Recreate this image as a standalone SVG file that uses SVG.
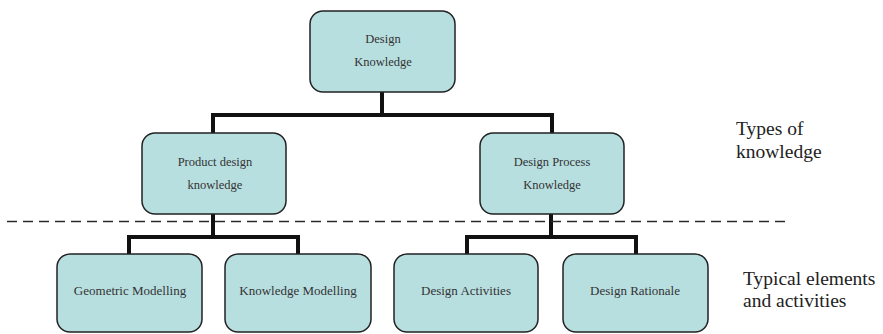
<svg xmlns="http://www.w3.org/2000/svg" width="883" height="334" viewBox="0 0 883 334">
  <style>
    .box { fill: #b8dfe0; stroke: #222; stroke-width: 1.5; }
    .lbl { font-family: "Liberation Serif", "Times New Roman", serif; fill: #333; text-anchor: middle; }
    .top { font-size: 12.5px; }
    .leaf { font-size: 13px; }
    .side { font-family: "Liberation Serif", "Times New Roman", serif; fill: #222; font-size: 19.5px; }
    .link { fill: none; stroke: #111; stroke-width: 4; stroke-linejoin: miter; }
    .sep { stroke: #2a2a2a; stroke-width: 1.4; stroke-dasharray: 10 6; }
  </style>

  <!-- tree connectors -->
  <g id="connectors">
    <path class="link" d="M382 92 V115 M213 133 V115 H552 V133"/>
    <path class="link" d="M213 214 V237 M129 254 V237 H298 V254"/>
    <path class="link" d="M551 214 V237 M467 254 V237 H636 V254"/>
  </g>

  <!-- level separator -->
  <line class="sep" x1="7" y1="221.5" x2="790" y2="221.5"/>

  <g id="design-knowledge">
    <rect class="box" x="310" y="11" width="145" height="81" rx="13"/>
    <text class="lbl top" x="383" y="43">Design</text>
    <text class="lbl top" x="383" y="66">Knowledge</text>
  </g>

  <g id="product-design-knowledge">
    <rect class="box" x="142" y="133" width="144" height="81" rx="13"/>
    <text class="lbl top" x="215" y="166">Product design</text>
    <text class="lbl top" x="215" y="189">knowledge</text>
  </g>

  <g id="design-process-knowledge">
    <rect class="box" x="480" y="133" width="144" height="81" rx="13"/>
    <text class="lbl top" x="552" y="166">Design Process</text>
    <text class="lbl top" x="552" y="189">Knowledge</text>
  </g>

  <g id="geometric-modelling">
    <rect class="box" x="57" y="254" width="145" height="78" rx="13"/>
    <text class="lbl leaf" x="130" y="295">Geometric Modelling</text>
  </g>

  <g id="knowledge-modelling">
    <rect class="box" x="225" y="254" width="146" height="78" rx="13"/>
    <text class="lbl leaf" x="298" y="295">Knowledge Modelling</text>
  </g>

  <g id="design-activities">
    <rect class="box" x="394" y="254" width="144" height="78" rx="13"/>
    <text class="lbl leaf" x="466" y="295">Design Activities</text>
  </g>

  <g id="design-rationale">
    <rect class="box" x="563" y="254" width="145" height="78" rx="13"/>
    <text class="lbl leaf" x="635" y="295">Design Rationale</text>
  </g>

  <!-- level captions -->
  <g id="caption-types">
    <text class="side" x="736" y="135">Types of</text>
    <text class="side" x="736" y="158">knowledge</text>
  </g>
  <g id="caption-elements">
    <text class="side" x="743" y="285">Typical elements</text>
    <text class="side" x="743" y="307">and activities</text>
  </g>
</svg>
